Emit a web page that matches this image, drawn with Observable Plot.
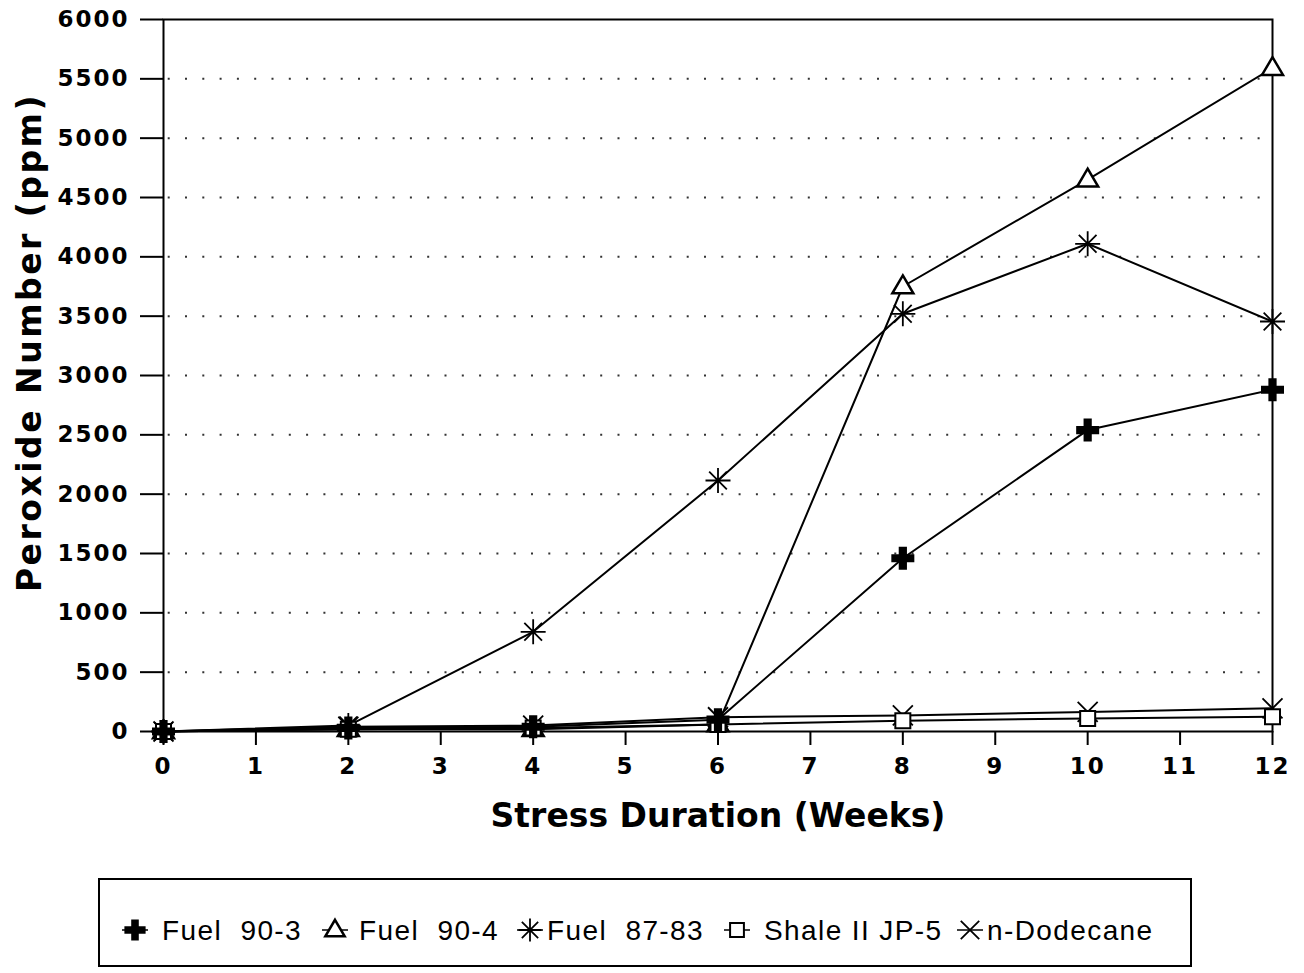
<!DOCTYPE html>
<html><head><meta charset="utf-8">
<script src="https://cdn.jsdelivr.net/npm/d3@7"></script>
<script src="https://cdn.jsdelivr.net/npm/@observablehq/plot@0.6"></script>
<style>
body{margin:0;background:#fff;}
#wrap{position:relative;width:1304px;height:973px;overflow:hidden;background:#fff;}
#legend{position:absolute;left:98px;top:878px;width:1090px;height:85px;border:2px solid #000;box-sizing:content-box;}
.lab{position:absolute;white-space:pre;font-family:"Liberation Sans",Arial,sans-serif;font-size:28px;letter-spacing:1.4px;color:#000;line-height:1;}
g[aria-label="y-axis tick label"] text, g[aria-label="x-axis tick label"] text{letter-spacing:2px;}
</style></head>
<body><div id="wrap"><div id="chart"></div><div id="legend"></div></div>
<script>
// ---- data ----
const weeks = [0, 2, 4, 6, 8, 10, 12];
const fuel903 = [0, 30, 40, 100, 1460, 2540, 2880];
const fuel904 = [0, 20, 20, 60, 3750, 4650, 5590];
const fuel8783 = [0, 50, 840, 2115, 3520, 4110, 3455];
const shaleJP5 = [0, 20, 30, 60, 90, 110, 125];
const dodecane = [0, 40, 50, 120, 135, 165, 195];
const seriesNames = ["Fuel  90-3", "Fuel  90-4", "Fuel  87-83", "Shale II JP-5", "n-Dodecane"];
const xTicks = [0, 1, 2, 3, 4, 5, 6, 7, 8, 9, 10, 11, 12];
const yTicks = [0, 500, 1000, 1500, 2000, 2500, 3000, 3500, 4000, 4500, 5000, 5500, 6000];
const xTitle = "Stress Duration (Weeks)";
const yTitle = "Peroxide Number (ppm)";

const seriesValues = [fuel903, fuel904, fuel8783, shaleJP5, dodecane];
const rows = [];
seriesNames.forEach((s, i) => weeks.forEach((w, j) => rows.push({series: s, week: w, value: seriesValues[i][j]})));

// ---- symbols ----
const SYM = {
  cross: {draw(c, size){const R=Math.sqrt(size/Math.PI), a=R/2.8;
    c.moveTo(-a,-R);c.lineTo(a,-R);c.lineTo(a,-a);c.lineTo(R,-a);c.lineTo(R,a);c.lineTo(a,a);
    c.lineTo(a,R);c.lineTo(-a,R);c.lineTo(-a,a);c.lineTo(-R,a);c.lineTo(-R,-a);c.lineTo(-a,-a);c.closePath();}},
  triangle: {draw(c, size){const R=Math.sqrt(size/Math.PI);
    c.moveTo(0,-1.05*R);c.lineTo(R,0.65*R);c.lineTo(-R,0.65*R);c.closePath();}},
  asterisk: {draw(c, size){const R=Math.sqrt(size/Math.PI);
    for (let k=0;k<4;k++){const t=k*Math.PI/4, dx=R*Math.cos(t), dy=R*Math.sin(t); c.moveTo(-dx,-dy); c.lineTo(dx,dy);}}},
  square: {draw(c, size){const R=Math.sqrt(size/Math.PI); c.rect(-R,-R,2*R,2*R);}},
  times: {draw(c, size){const R=Math.sqrt(size/Math.PI); c.moveTo(-R,-R);c.lineTo(R,R);c.moveTo(R,-R);c.lineTo(-R,R);}}
};
const styleOf = {
  "Fuel  90-3": {symbol: SYM.cross, r: 11.5, fill: "black", stroke: "none", strokeWidth: 0},
  "Fuel  90-4": {symbol: SYM.triangle, r: 10.5, fill: "white", stroke: "black", strokeWidth: 2.5},
  "Fuel  87-83": {symbol: SYM.asterisk, r: 12.5, fill: "none", stroke: "black", strokeWidth: 1.8},
  "Shale II JP-5": {symbol: SYM.square, r: 7.5, fill: "white", stroke: "black", strokeWidth: 2},
  "n-Dodecane": {symbol: SYM.times, r: 10, fill: "none", stroke: "black", strokeWidth: 1.8}
};
const drawOrder = ["Fuel  87-83", "Fuel  90-4", "n-Dodecane", "Shale II JP-5", "Fuel  90-3"];

const chart = Plot.plot({
  width: 1304, height: 870,
  marginLeft: 163, marginRight: 32, marginTop: 19, marginBottom: 139,
  x: {domain: [0, 12]},
  y: {domain: [0, 6000]},
  style: {fontFamily: "DejaVu Sans", fontWeight: "bold", fontSize: "23px", color: "black", background: "white", overflow: "visible"},
  marks: [
    Plot.ruleY(yTicks.filter(d => d > 0 && d < 6000), {stroke: "#333", strokeWidth: 2, strokeDasharray: "2 15.3", strokeDashoffset: 12.6}),
    Plot.frame({stroke: "black", strokeWidth: 2}),
    Plot.axisY({ticks: yTicks, tickSize: 23, tickPadding: 11, tickFormat: d => String(d), label: null, strokeWidth: 2, fontSize: 23, fontWeight: "bold"}),
    Plot.axisX({ticks: xTicks, tickSize: 14, tickPadding: 12, tickFormat: d => String(d), label: null, strokeWidth: 2, fontSize: 23, fontWeight: "bold"}),
    Plot.line(rows, {x: "week", y: "value", z: "series", stroke: "black", strokeWidth: 2}),
    ...drawOrder.map(s => Plot.dot(rows.filter(d => d.series === s), {x: "week", y: "value", ...styleOf[s]})),
    Plot.text([yTitle], {text: d => d, frameAnchor: "left", textAnchor: "middle", dx: -133, dy: -33, rotate: -90, fontSize: 33, fontWeight: "bold", fontFamily: "DejaVu Sans"}),
    Plot.text([xTitle], {text: d => d, frameAnchor: "bottom", dy: 95, fontSize: 33, fontWeight: "bold", fontFamily: "DejaVu Sans"})
  ]
});
document.getElementById("chart").appendChild(chart);
d3.select(chart).selectAll("text").filter(function(){return this.textContent === yTitle;}).style("letter-spacing", "2.5px");

// ---- legend ----
const legendPos = [[35, 62], [235, 259], [430, 447], [637, 664], [870, 887]];
const legend = document.getElementById("legend");
seriesNames.forEach((s, i) => {
  const st = styleOf[s];
  const [mx, tx] = legendPos[i];
  const svg = d3.create("svg").attr("width", 40).attr("height", 40)
    .style("left", (mx - 20) + "px").style("top", "30px").style("position", "absolute");
  svg.append("line").attr("x1", 7).attr("x2", 33).attr("y1", 20).attr("y2", 20).attr("stroke", "black").attr("stroke-width", 1.5);
  svg.append("path").attr("transform", "translate(20,20)")
    .attr("d", d3.symbol(st.symbol, Math.PI * st.r * st.r * 0.85)())
    .attr("fill", st.fill).attr("stroke", st.stroke).attr("stroke-width", st.strokeWidth);
  legend.appendChild(svg.node());
  const lab = document.createElement("div");
  lab.className = "lab";
  lab.textContent = s;
  lab.style.left = tx + "px";
  lab.style.top = "37px";
  legend.appendChild(lab);
});
</script></body></html>
